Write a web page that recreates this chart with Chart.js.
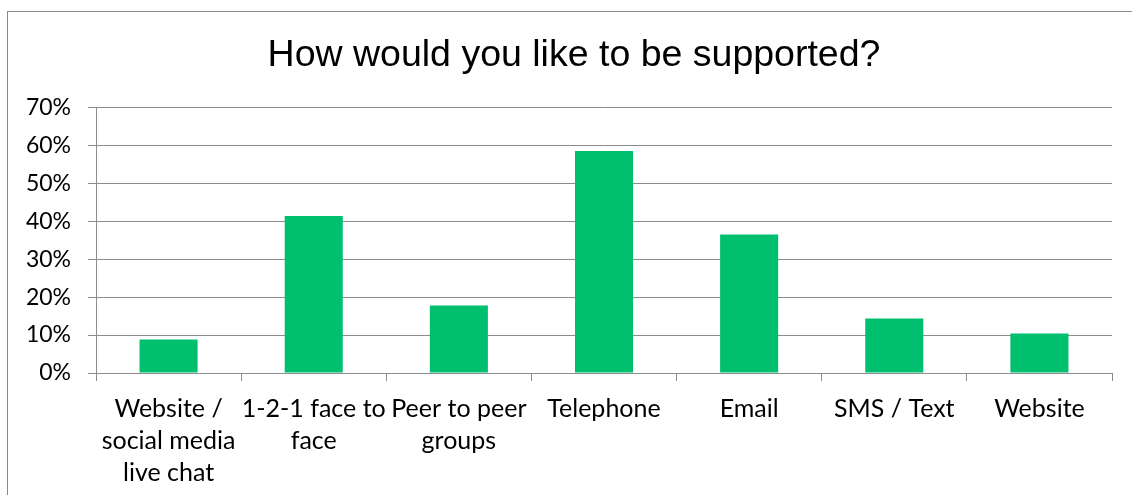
<!DOCTYPE html>
<html>
<head>
<meta charset="utf-8">
<title>How would you like to be supported?</title>
<script src="https://cdn.jsdelivr.net/npm/chart.js@4.4.1/dist/chart.umd.min.js"></script>
<style>
  html, body { margin: 0; padding: 0; background: #fff; overflow: hidden; }
  #wrap { position: relative; width: 1132px; height: 495px; }
  #frame {
    position: absolute; left: 7px; top: 11px; width: 1200px; height: 600px;
    border-left: 1px solid #8a8a8a; border-top: 1px solid #8a8a8a;
  }
  #supportChart { position: absolute; left: 0; top: 0; }
</style>
</head>
<body>
<div id="wrap">
  <div id="frame"></div>
  <canvas id="supportChart" width="1132" height="495"></canvas>
</div>
<script>
// survey answers, share of respondents (%)
const categories = [
  ['Website /', 'social media', 'live chat'],
  ['1-2-1 face to', 'face'],
  ['Peer to peer', 'groups'],
  'Telephone',
  'Email',
  'SMS / Text',
  'Website'
];
const shares = [8.8, 41.4, 17.8, 58.5, 36.5, 14.4, 10.4];
const yTicks = [0, 10, 20, 30, 40, 50, 60, 70];

const TITLE = 'How would you like to be supported?';
const BAR_GREEN = '#00bf6f';
const GRID_GREY = '#8c8c8c';
const LABEL_FAMILY = 'Lato, "Open Sans", sans-serif';

Chart.defaults.color = '#000';
Chart.defaults.animation = false;

// title sits centred over the whole frame, not just the canvas minus padding
const frameTitle = {
  id: 'frameTitle',
  afterDraw(chart) {
    const ctx = chart.ctx;
    ctx.save();
    ctx.font = '37.5px "Liberation Sans", Arial, sans-serif';
    ctx.fillStyle = '#000';
    ctx.textAlign = 'center';
    ctx.textBaseline = 'alphabetic';
    ctx.fillText(TITLE, 574, 66);
    ctx.restore();
  }
};

const chart = new Chart(document.getElementById('supportChart'), {
  type: 'bar',
  data: {
    labels: categories,
    datasets: [{
      data: shares,
      backgroundColor: BAR_GREEN,
      borderWidth: 0,
      barPercentage: 0.4,
      categoryPercentage: 1
    }]
  },
  plugins: [frameTitle],
  options: {
    responsive: false,
    layout: { padding: { left: 0, right: 20, top: 107.5, bottom: 0 } },
    plugins: {
      legend: { display: false },
      tooltip: { enabled: false },
      title: { display: false }
    },
    scales: {
      x: {
        offset: true,
        grid: { offset: true, drawOnChartArea: false, drawTicks: true, tickLength: 8, color: GRID_GREY },
        border: { display: true, color: GRID_GREY },
        ticks: { font: { family: LABEL_FAMILY, size: 25, lineHeight: '32px' }, padding: 12, maxRotation: 0, autoSkip: false },
        afterFit: (scale) => { scale.height = 122; }
      },
      y: {
        min: 0,
        max: 70,
        afterBuildTicks: (scale) => { scale.ticks = yTicks.map((v) => ({ value: v })); },
        grid: { color: GRID_GREY, tickLength: 8 },
        border: { display: true, color: GRID_GREY },
        ticks: { font: { family: LABEL_FAMILY, size: 23 }, padding: 17, callback: (v) => v + '%' },
        afterFit: (scale) => { scale.width = 96; }
      }
    }
  }
});
</script>
</body>
</html>
